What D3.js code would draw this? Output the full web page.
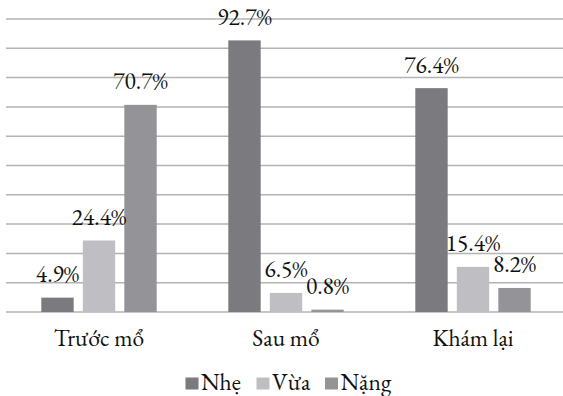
<!DOCTYPE html>
<html><head><meta charset="utf-8">
<script src="https://cdn.jsdelivr.net/npm/d3@7"></script>
<style>body{margin:0;background:#fff}svg{display:block}</style>
</head><body><div id="c"></div>
<script>
const categories = ["Trước mổ", "Sau mổ", "Khám lại"];
const seriesNames = ["Nhẹ", "Vừa", "Nặng"];
const nhe = [4.9, 92.7, 76.4];
const vua = [24.4, 6.5, 15.4];
const nang = [70.7, 0.8, 8.2];
const seriesValues = [nhe, vua, nang];
const colors = ["#7b7b7f", "#bfbfc3", "#949498"];
const yTicks = [0,10,20,30,40,50,60,70,80,90,100];

const W = 563, H = 396;
const FONT = "'EB Garamond', 'Liberation Serif', serif";
const FS = 23.5;
const svg = d3.select("#c").append("svg").attr("width", W).attr("height", H)
  .attr("font-family", FONT);
const x = d3.scaleBand().domain(categories).range([5.5, 566.5]).paddingInner(0).paddingOuter(0);
const xs = d3.scaleBand().domain(seriesNames).range([-57.7, 57.7]).paddingInner(0.22).paddingOuter(0);
const y = d3.scaleLinear().domain([0, 100]).range([312, 19]);

svg.append("g").selectAll("line").data(yTicks).join("line")
  .attr("x1", 6).attr("x2", W).attr("y1", d => y(d)).attr("y2", d => y(d))
  .attr("stroke", "#b3b3b3").attr("stroke-width", 1.5);

const data = [];
categories.forEach((c, i) => seriesNames.forEach((s, j) => data.push({c, s, j, v: seriesValues[j][i]})));

svg.append("g").selectAll("rect").data(data).join("rect")
  .attr("x", d => x(d.c) + x.bandwidth()/2 + xs(d.s))
  .attr("width", xs.bandwidth())
  .attr("y", d => y(d.v))
  .attr("height", d => y(0) - y(d.v))
  .attr("fill", d => colors[d.j]);

svg.append("g").selectAll("text").data(data).join("text")
  .attr("x", d => x(d.c) + x.bandwidth()/2 + xs(d.s) + xs.bandwidth()/2)
  .attr("y", d => y(d.v) - 15.5)
  .attr("text-anchor", "middle").attr("font-size", FS).attr("fill", "#111")
  .text(d => d.v.toFixed(1) + "%");

svg.append("g").selectAll("text").data(categories).join("text")
  .attr("x", d => x(d) + x.bandwidth()/2).attr("y", 346)
  .attr("text-anchor", "middle").attr("font-size", FS).attr("fill", "#111")
  .text(d => d);

const legendX = [185.5, 256.5, 325];
const lg = svg.append("g").selectAll("g").data(seriesNames).join("g")
  .attr("transform", (d, i) => `translate(${legendX[i]},0)`);
lg.append("rect").attr("x", 0).attr("y", 377.5).attr("width", 13).attr("height", 12)
  .attr("fill", (d, i) => colors[i]);
lg.append("text").attr("x", 15.5).attr("y", 389.5).attr("font-size", FS).attr("fill", "#111").text(d => d);
</script></body></html>
